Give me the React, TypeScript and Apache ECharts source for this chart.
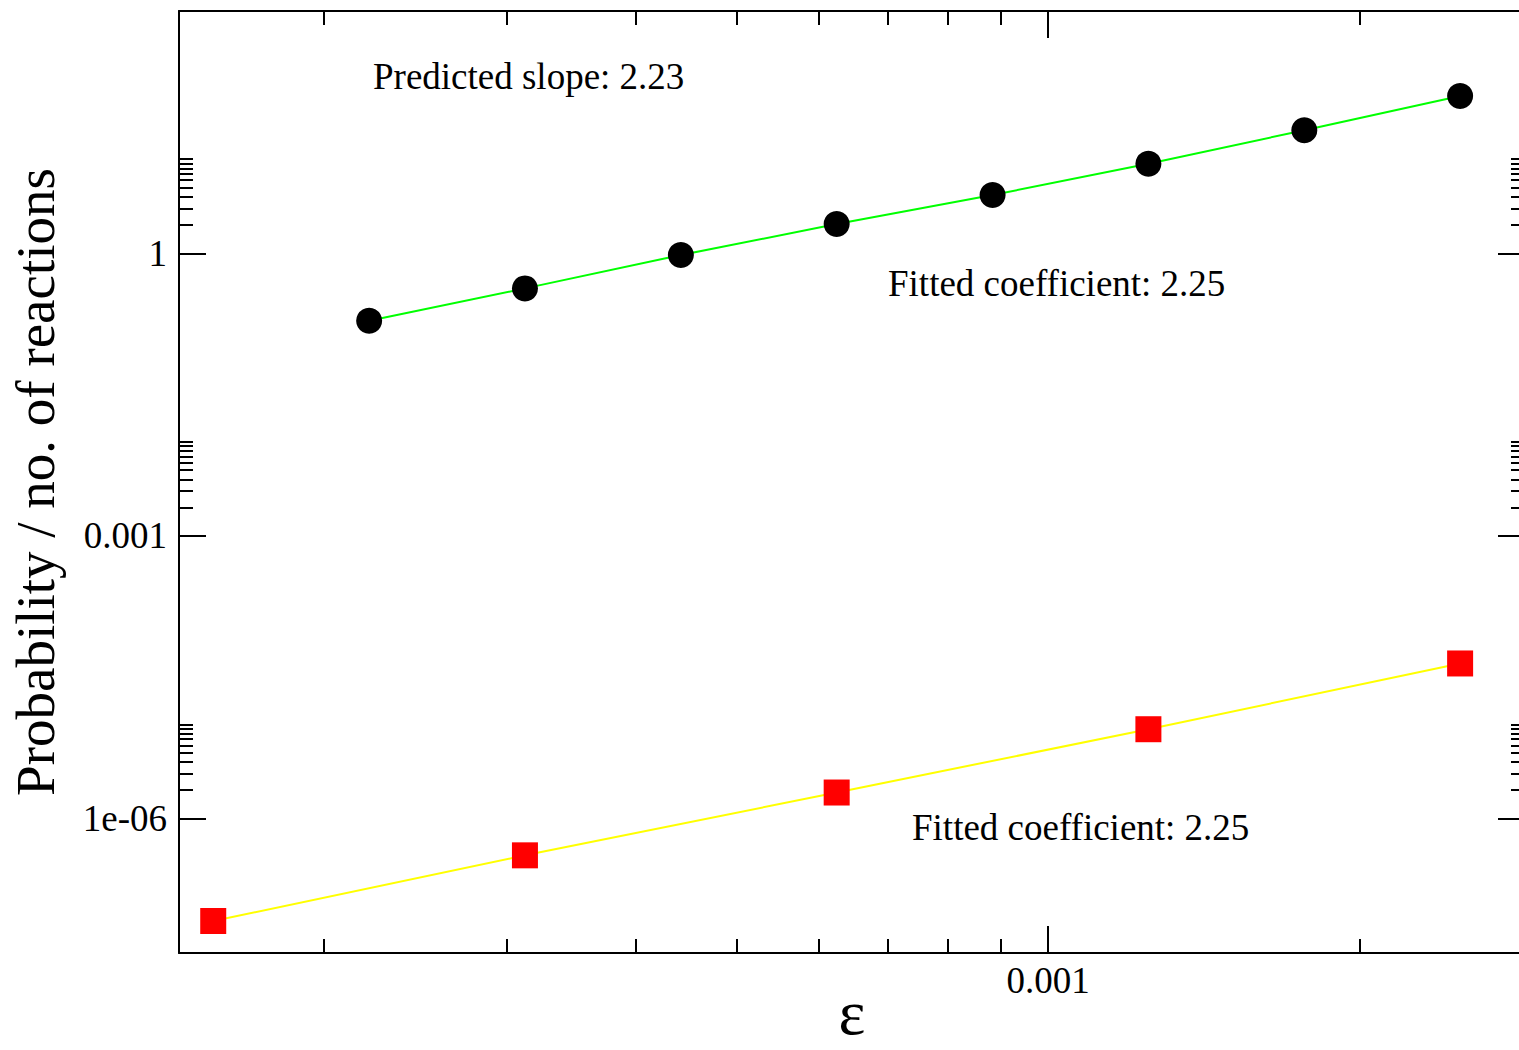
import React, { useEffect, useRef } from 'react';
import * as echarts from 'echarts';

// ---- data ----
const epsCircles = [2.21e-4, 3.125e-4, 4.42e-4, 6.25e-4, 8.84e-4, 1.25e-3, 1.768e-3, 2.5e-3];
const probCircles = [0.1924, 0.4249, 0.959, 2.047, 4.16, 8.94, 20.3, 46.8];
const epsSquares = [1.5625e-4, 3.125e-4, 6.25e-4, 1.25e-3, 2.5e-3];
const probSquares = [8.18e-8, 4.07e-7, 1.89e-6, 8.88e-6, 4.43e-5];

// ---- axes ----
const xRange = [1.448e-4, 2.888e-3];
const yRange = [3.74e-8, 374];
const xMajorTicks = [1e-3];
const xMajorLabels = ['0.001'];
const xMinorTicks = [2e-4, 3e-4, 4e-4, 5e-4, 6e-4, 7e-4, 8e-4, 9e-4, 2e-3];
const yMajorTicks = [1e-6, 1e-3, 1];
const yMajorLabels = ['1e-06', '0.001', '1'];
const yMinorTicks = [
  2e-6, 3e-6, 4e-6, 5e-6, 6e-6, 7e-6, 8e-6, 9e-6, 1e-5,
  2e-3, 3e-3, 4e-3, 5e-3, 6e-3, 7e-3, 8e-3, 9e-3, 1e-2,
  2, 3, 4, 5, 6, 7, 8, 9, 10,
];

// ---- texts ----
const xName = 'ε';
const yName = 'Probability / no. of reactions';
const annotations = [
  { text: 'Predicted slope: 2.23', x: 373, y: 76 },
  { text: 'Fitted coefficient: 2.25', x: 888, y: 283 },
  { text: 'Fitted coefficient: 2.25', x: 912, y: 827 },
];

const FONT = '"Liberation Serif", "Times New Roman", serif';

function labelFor(ticks: number[], labels: string[]) {
  return (v: number) => {
    for (let i = 0; i < ticks.length; i++) {
      if (Math.abs(Math.log10(v) - Math.log10(ticks[i])) < 1e-6) return labels[i];
    }
    return '';
  };
}

function makeAxis(
  dim: 'x' | 'y',
  position: string,
  ticks: number[],
  tickLen: number,
  showLine: boolean,
  labels: string[] | null,
  extra: any = {}
) {
  const range = dim === 'x' ? xRange : yRange;
  return {
    type: 'log',
    logBase: 10,
    position,
    min: range[0],
    max: range[1],
    gridIndex: 0,
    axisLine: { show: showLine, onZero: false, lineStyle: { color: '#000', width: 2 } },
    axisTick: {
      show: true,
      inside: true,
      length: tickLen,
      customValues: ticks,
      lineStyle: { color: '#000', width: 2 },
    },
    axisLabel: labels
      ? {
          show: true,
          customValues: ticks,
          formatter: labelFor(ticks, labels),
          fontFamily: FONT,
          fontSize: 37,
          color: '#000',
          margin: dim === 'x' ? 9 : 12,
        }
      : { show: false },
    splitLine: { show: false },
    minorTick: { show: false },
    minorSplitLine: { show: false },
    ...extra,
  };
}

export default function App() {
  const ref = useRef<HTMLDivElement>(null);

  useEffect(() => {
    if (!ref.current) return;
    const chart = echarts.init(ref.current, null, { renderer: 'svg' });

    const option: any = {
      animation: false,
      backgroundColor: '#fff',
      grid: {
        left: 179,
        top: 11,
        right: -6,
        bottom: 97,
        containLabel: false,
        outerBoundsMode: 'none',
        show: false,
      },
      xAxis: [
        makeAxis('x', 'bottom', xMajorTicks, 27, true, xMajorLabels, {
          name: xName,
          nameLocation: 'middle',
          nameGap: 27,
          nameMoveOverlap: false,
          nameTextStyle: { fontFamily: FONT, fontSize: 64, color: '#000' },
        }),
        makeAxis('x', 'bottom', xMinorTicks, 14, false, null),
        makeAxis('x', 'top', xMajorTicks, 27, true, null),
        makeAxis('x', 'top', xMinorTicks, 14, false, null),
      ],
      yAxis: [
        makeAxis('y', 'left', yMajorTicks, 27, true, yMajorLabels, {
          name: yName,
          nameLocation: 'middle',
          nameRotate: 90,
          nameGap: 116,
          nameMoveOverlap: false,
          nameTextStyle: { fontFamily: FONT, fontSize: 55, color: '#000' },
        }),
        makeAxis('y', 'left', yMinorTicks, 14, false, null),
        makeAxis('y', 'right', yMajorTicks, 27, true, null),
        makeAxis('y', 'right', yMinorTicks, 14, false, null),
      ],
      series: [
        {
          type: 'line',
          name: 'circles',
          xAxisIndex: 0,
          yAxisIndex: 0,
          data: epsCircles.map((x, i) => [x, probCircles[i]]),
          lineStyle: { color: '#00ff00', width: 2 },
          symbol: 'circle',
          symbolSize: 26,
          itemStyle: { color: '#000' },
          showAllSymbol: true,
          z: 3,
        },
        {
          type: 'line',
          name: 'squares',
          xAxisIndex: 0,
          yAxisIndex: 0,
          data: epsSquares.map((x, i) => [x, probSquares[i]]),
          lineStyle: { color: '#ffff00', width: 2 },
          symbol: 'rect',
          symbolSize: 26,
          itemStyle: { color: '#ff0000' },
          showAllSymbol: true,
          z: 3,
        },
      ],
      graphic: annotations.map((a) => ({
        type: 'text',
        x: a.x,
        y: a.y,
        style: {
          text: a.text,
          fontFamily: FONT,
          fontSize: 37,
          fill: '#000',
          align: 'left',
          verticalAlign: 'middle',
        },
      })),
    };

    chart.setOption(option);
    return () => chart.dispose();
  }, []);

  return (
    <div
      ref={ref}
      style={{ position: 'absolute', left: 0, top: 0, width: 1519, height: 1050 }}
    />
  );
}
